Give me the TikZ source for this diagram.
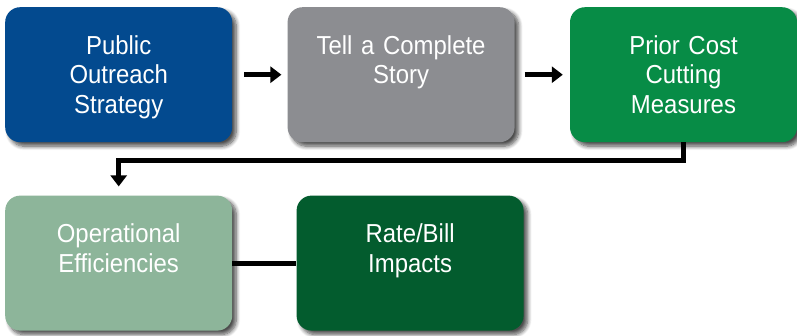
\documentclass[tikz,border=0pt]{standalone}
\usepackage{fontspec}
\setmainfont[FakeStretch=0.92]{Liberation Sans}
\usetikzlibrary{positioning,arrows.meta,shadows.blur}

\definecolor{outreachblue}{RGB}{3,74,143}
\definecolor{storygray}{RGB}{140,141,145}
\definecolor{costgreen}{RGB}{7,140,70}
\definecolor{opsgreen}{RGB}{141,181,154}
\definecolor{rategreen}{RGB}{3,92,46}

% fixed top and bottom of the three text lines
\newcommand{\topline}{\rule{0pt}{27pt}}

\tikzset{
  stage/.style={rectangle, rounded corners=15pt, minimum width=227pt,
    minimum height=135pt, text width=210pt, align=center, text=white,
    font=\fontsize{26}{29.5}\selectfont, inner sep=0pt,
    blur shadow={shadow xshift=4pt, shadow yshift=-4pt, shadow blur steps=8,
      shadow blur radius=4pt, shadow opacity=70}},
  flow/.style={line width=5pt, -{Triangle[length=11pt,width=16pt]}},
  link/.style={line width=5pt}
}

\begin{document}
\begin{tikzpicture}
  \node[stage, fill=outreachblue] (outreach) {\topline Public\\Outreach\\Strategy\strut};
  \node[stage, fill=storygray, right=55pt of outreach] (story) {\topline Tell a Complete\\Story\\\strut};
  \node[stage, fill=costgreen, right=55pt of story] (cost) {\topline Prior Cost\\Cutting\\Measures\strut};
  \node[stage, fill=opsgreen, below=53pt of outreach] (ops) {\topline Operational\\Efficiencies\\\strut};
  \node[stage, fill=rategreen, right=64pt of ops] (rate) {\topline Rate/Bill\\Impacts\\\strut};

  \draw[flow, shorten <=12pt, shorten >=6pt] (outreach) -- (story);
  \draw[flow, shorten <=10pt, shorten >=7pt] (story) -- (cost);
  \draw[flow, shorten >=9pt] (cost.south) -- ++(0,-18pt) -| (ops.north);
  \draw[link] (ops) -- (rate);

  \useasboundingbox (outreach.north west) ++(-5pt,7pt) rectangle ++(797pt,-335pt);
\end{tikzpicture}
\end{document}
